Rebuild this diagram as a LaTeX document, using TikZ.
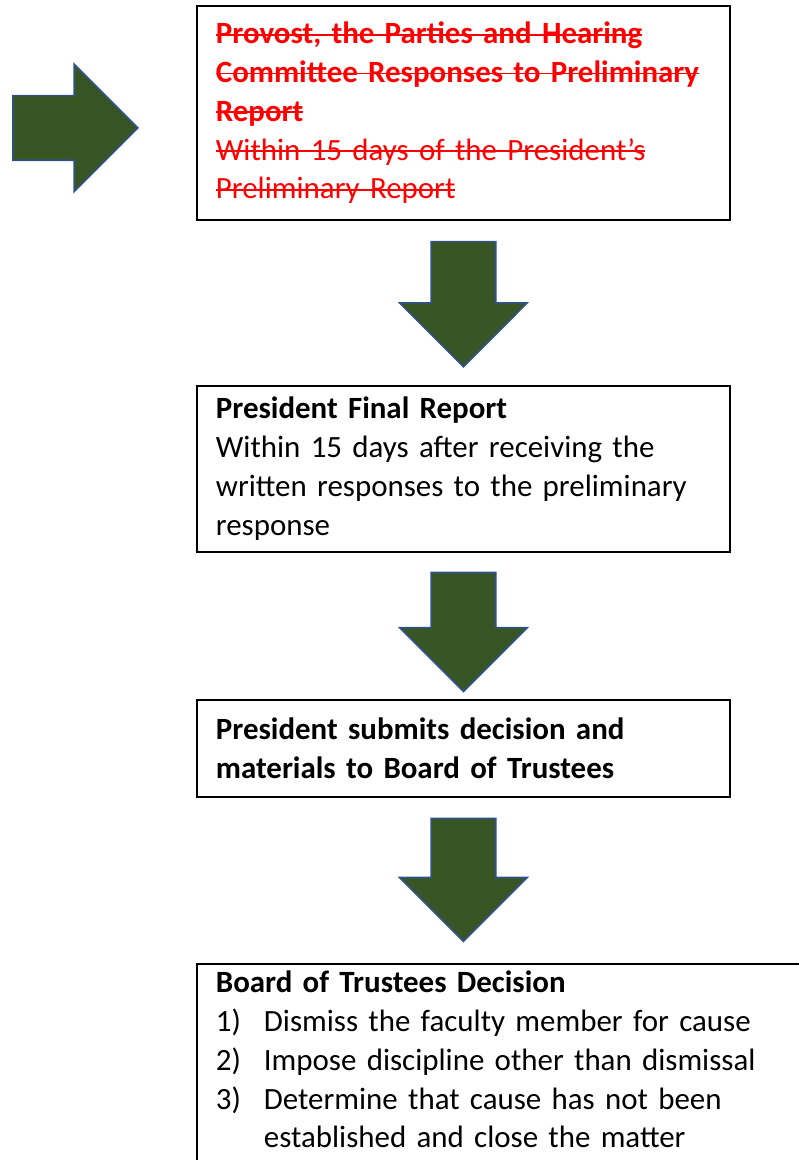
\documentclass[tikz,border=0pt]{standalone}
\usepackage{fontspec}
\setmainfont{Carlito}
\usepackage{tikz}
\usetikzlibrary{positioning, shapes.arrows}
\definecolor{pgreen}{HTML}{375623}
\definecolor{pblue}{HTML}{2F528F}
\definecolor{pred}{HTML}{FF0000}
% struck-out text (no ulem here)
\newcommand{\strk}[1]{\leavevmode\sbox0{#1}\rlap{\rule[0.55ex]{\wd0}{1.3pt}}\usebox0}
\begin{document}
\begin{tikzpicture}[font=\fontsize{23.2pt}{29.1pt}\selectfont,
     stage/.style={draw=black, line width=1.4pt, align=left, inner xsep=14.25pt,
       text width=371.25pt, minimum height=#1},
     stage/.default=72.75pt,
     flow/.style={single arrow, draw=pblue, line width=1.2pt, fill=pgreen,
       inner xsep=0pt, inner ysep=23.625pt, minimum width=0pt,
       single arrow head extend=23.625pt, minimum height=#1},
     flow/.default=93.75pt,
     drop/.style={flow=#1, shape border rotate=270, inner xsep=23.625pt, inner ysep=0pt},
     drop/.default=93.75pt]
    \clip (0,0) rectangle (599.25pt,-870pt);
    \node[stage=160.5pt, text=pred, anchor=north west] (b1) at (147pt,-3.75pt)
      {\strk{\textbf{Provost, the Parties and Hearing}}\\
       \strk{\textbf{Committee Responses to Preliminary}}\\
       \strk{\textbf{Report}}\\
       \strk{Within 15 days of the President’s}\\
       \strk{Preliminary Report}};
    \node[flow, left=42.75pt of b1, yshift=-11.25pt] (a0) {};
    \node[drop, below=15pt of b1] (a1) {};
    \node[stage=124.5pt, below=12.75pt of a1] (b2)
      {\textbf{President Final Report}\\
       Within 15 days after receiving the\\
       written responses to the preliminary\\
       response};
    \node[drop=89.25pt, below=14.25pt of b2] (a2) {};
    \node[stage, below=4.5pt of a2] (b3)
      {\textbf{President submits decision and}\\
       \textbf{materials to Board of Trustees}};
    \node[drop=92.25pt, below=15pt of b3] (a3) {};
    % runs off the page at the bottom and right
    \node[stage=0pt, text width=451.5pt, inner ysep=5pt, text depth=145pt,
      anchor=north west] (b4)
      at ([yshift=-15.75pt]a3.south -| b3.west)
      {\textbf{Board of Trustees Decision}\\
       \makebox[36pt][l]{1)}Dismiss the faculty member for cause\\
       \makebox[36pt][l]{2)}Impose discipline other than dismissal\\
       \makebox[36pt][l]{3)}Determine that cause has not been\\
       \hspace*{36pt}established and close the matter};
  \end{tikzpicture}
\end{document}
